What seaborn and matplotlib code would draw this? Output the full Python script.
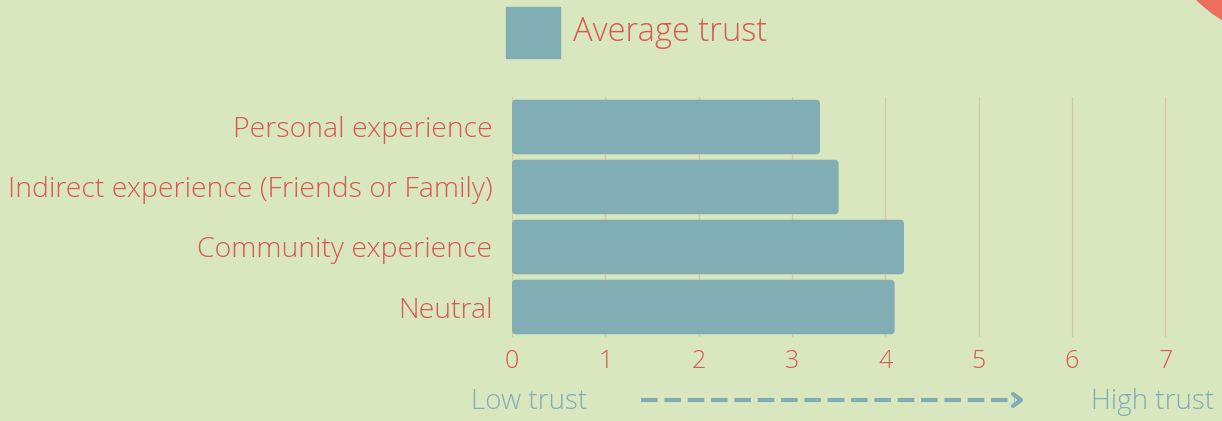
import matplotlib
matplotlib.use("Agg")
import matplotlib.pyplot as plt
import seaborn as sns
import pandas as pd
from matplotlib.lines import Line2D
from matplotlib.patches import Ellipse, FancyBboxPatch

# data
categories = ["Personal experience", "Indirect experience (Friends or Family)",
              "Community experience", "Neutral"]
avg_trust = [3.3, 3.5, 4.2, 4.1]
x_ticks = [0, 1, 2, 3, 4, 5, 6, 7]

BG = "#d9e7bf"
BAR = "#81adb5"
RED = "#d9584f"
GRID = "#d4c9a4"

df = pd.DataFrame({"category": categories, "trust": avg_trust})

sns.set_style("white")
plt.rcParams["font.family"] = ["Open Sans", "DejaVu Sans"]

fig = plt.figure(figsize=(12.22, 4.21), dpi=100, facecolor=BG)
ax = fig.add_axes([512 / 1222, 1 - 337 / 421, (1170 - 512) / 1222, 240 / 421])
ax.set_facecolor(BG)

sns.barplot(data=df, x="trust", y="category", color=BAR, width=0.91,
            saturation=1, ax=ax, zorder=3, linewidth=0)

ax.set_xlim(0, 7.05)
ax.set_ylim(3.5, -0.5)

# swap the plain rectangles for slightly rounded ones
for p in list(ax.patches):
    x0, y0, w, h = p.get_x(), p.get_y(), p.get_width(), p.get_height()
    p.remove()
    ax.add_patch(FancyBboxPatch((x0, y0), w, h,
                                boxstyle="round,pad=0,rounding_size=0.045",
                                mutation_aspect=1.5, facecolor=BAR,
                                edgecolor="none", zorder=3))

ax.set_xticks(x_ticks)
ax.set_xticklabels([str(t) for t in x_ticks])
ax.xaxis.grid(True, color=GRID, linewidth=1, zorder=0)
ax.yaxis.grid(False)
for s in ax.spines.values():
    s.set_visible(False)
ax.tick_params(axis="x", length=0, labelsize=18, labelcolor=RED, pad=9)
ax.tick_params(axis="y", length=0, labelsize=20.5, labelcolor=RED, pad=14)
for lbl in ax.get_xticklabels() + ax.get_yticklabels():
    lbl.set_fontweight("light")
ax.set_xlabel("")
ax.set_ylabel("")

# legend-like header
fig.patches.append(plt.Rectangle((506 / 1222, 1 - 58 / 421), 54 / 1222, 51 / 421,
                                 transform=fig.transFigure, color=BAR, figure=fig))
fig.text(573 / 1222, 1 - 41 / 421, "Average trust", color=RED, fontsize=23.5,
         va="baseline", ha="left", fontweight="light")

# low/high trust annotation
fig.text(471 / 1222, 1 - 409 / 421, "Low trust", color=BAR, fontsize=20,
         va="baseline", ha="left", fontweight="light")
fig.text(1214 / 1222, 1 - 409 / 421, "High trust", color=BAR, fontsize=20,
         va="baseline", ha="right", fontweight="light")
fig.add_artist(Line2D([641 / 1222, 1015 / 1222], [1 - 400 / 421, 1 - 400 / 421],
                      transform=fig.transFigure, color=BAR, linewidth=3,
                      linestyle=(0, (4, 1.6))))
fig.add_artist(Line2D([1013 / 1222, 1021 / 1222, 1013 / 1222],
                      [1 - 394 / 421, 1 - 400 / 421, 1 - 406 / 421],
                      transform=fig.transFigure, color=BAR, linewidth=3,
                      solid_capstyle="round", solid_joinstyle="round"))

# decorative corner circle
r = 140
fig.add_artist(Ellipse((1295 / 1222, 1 + 100 / 421), 2 * r / 1222, 2 * r / 421,
                       transform=fig.transFigure, color="#ee6e5e", clip_on=False))

fig.savefig("out.png", dpi=100, facecolor=BG)
